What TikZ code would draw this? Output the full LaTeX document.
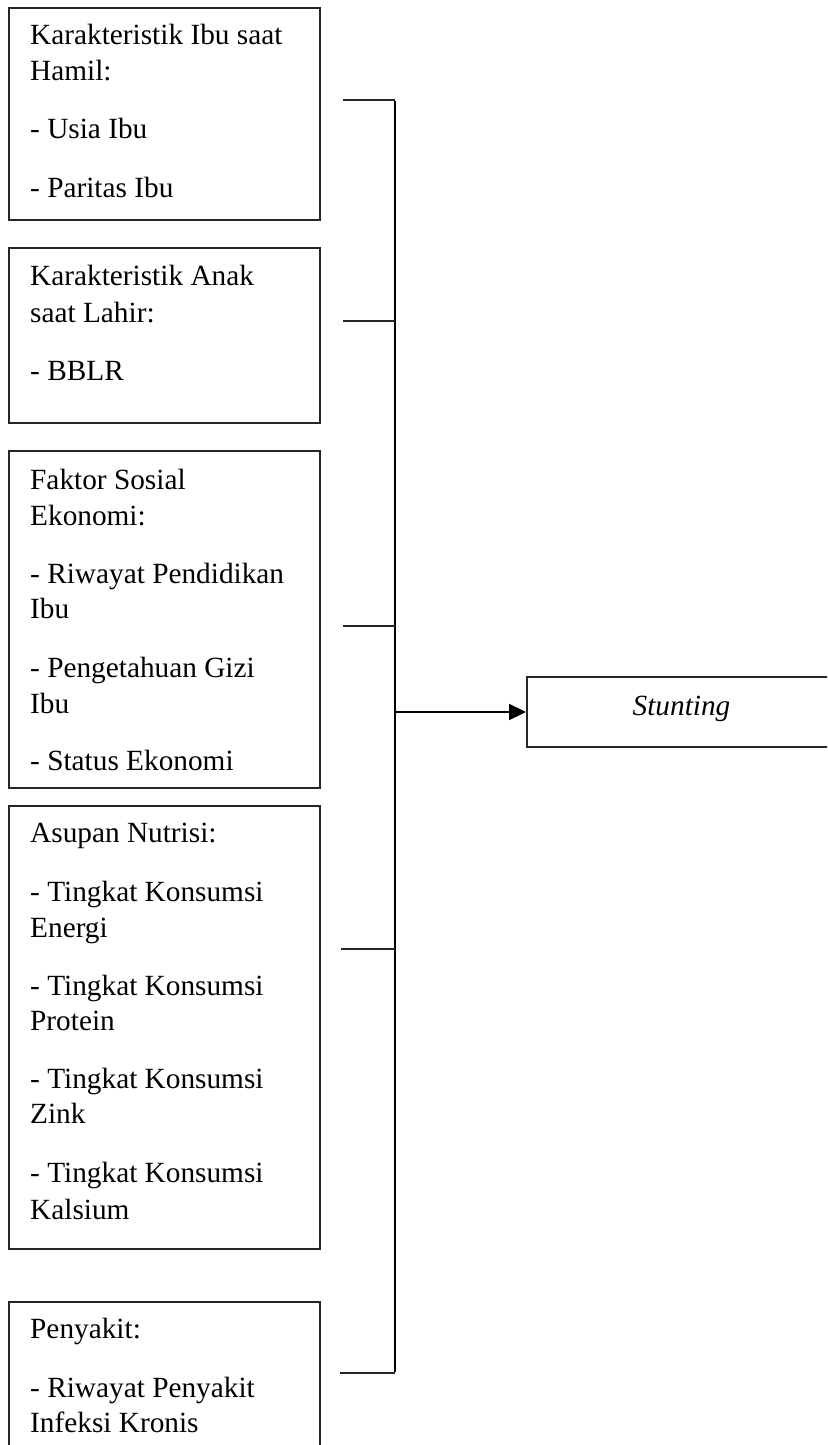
\documentclass[tikz,border=0pt]{standalone}
\usepackage{fontspec}
\setmainfont{Liberation Serif}
\usetikzlibrary{arrows.meta}
\tikzset{
  boxline/.style={draw=black!85, line width=1.2pt},
  txt/.style={anchor=base west, inner sep=0pt, font=\fontsize{29.3}{36}\selectfont},
  tick/.style={draw=black!85, line width=1.3pt},
  trunk/.style={draw=black, line width=2.4pt},
}
\begin{document}
\begin{tikzpicture}[x=1pt,y=-1pt]
\useasboundingbox (0,0) rectangle (827,1445);
\clip (0,0) rectangle (827,1445);
% boxes
\draw[boxline] (9,8) rectangle (320,220);
\draw[boxline] (9,248) rectangle (320,423);
\draw[boxline] (9,451) rectangle (320,788);
\draw[boxline] (9,806) rectangle (320,1249);
\draw[boxline] (9,1302) rectangle (320,1470);
\draw[boxline] (527,677) rectangle (836,747);
% box texts
\node[txt] (t1a) at (30,45) {Karakteristik Ibu saat};
\node[txt] (t1b) at (30,81) {Hamil:};
\node[txt] (t1c) at (30,138) {- Usia Ibu};
\node[txt] (t1d) at (30,197) {- Paritas Ibu};
\node[txt] (t2a) at (30,285) {Karakteristik Anak};
\node[txt] (t2b) at (30,322) {saat Lahir:};
\node[txt] (t2c) at (30,380) {- BBLR};
\node[txt] (t3a) at (30,489) {Faktor Sosial};
\node[txt] (t3b) at (30,525) {Ekonomi:};
\node[txt] (t3c) at (30,583) {- Riwayat Pendidikan};
\node[txt] (t3d) at (30,618) {Ibu};
\node[txt] (t3e) at (30,677) {- Pengetahuan Gizi};
\node[txt] (t3f) at (30,713) {Ibu};
\node[txt] (t3g) at (30,770) {- Status Ekonomi};
\node[txt] (t4a) at (30,842) {Asupan Nutrisi:};
\node[txt] (t4b) at (30,901) {- Tingkat Konsumsi};
\node[txt] (t4c) at (30,937) {Energi};
\node[txt] (t4d) at (30,995) {- Tingkat Konsumsi};
\node[txt] (t4e) at (30,1030) {Protein};
\node[txt] (t4f) at (30,1088) {- Tingkat Konsumsi};
\node[txt] (t4g) at (30,1123) {Zink};
\node[txt] (t4h) at (30,1182) {- Tingkat Konsumsi};
\node[txt] (t4i) at (30,1219) {Kalsium};
\node[txt] (t5a) at (30,1338) {Penyakit:};
\node[txt] (t5b) at (30,1397) {- Riwayat Penyakit};
\node[txt] (t5c) at (30,1432) {Infeksi Kronis};
\node[txt, anchor=base, font=\fontsize{29.3}{36}\selectfont\itshape] (st) at (681.5,715) {Stunting};
% connectors
\coordinate (top) at (395,100);
\coordinate (bot) at (395,1373);
\coordinate (l1) at (343,100);
\coordinate (l2) at (343,321);
\coordinate (l3) at (343,626);
\coordinate (l4) at (341,949);
\coordinate (l5) at (340,1373);
\coordinate (mid) at (395,712);
\coordinate (tip) at (526,712);
\draw[trunk] ([yshift=-0.6pt]top) -- ([yshift=0.6pt]bot);
\draw[tick] (l1) -- (top);
\draw[tick] (l2) -- (395,321);
\draw[tick] (l3) -- (395,626);
\draw[tick] (l4) -- (395,949);
\draw[tick] (l5) -- (bot);
\draw[line width=2.2pt, -{Triangle[length=17pt,width=16pt]}] (mid) -- (tip);
\end{tikzpicture}
\end{document}
